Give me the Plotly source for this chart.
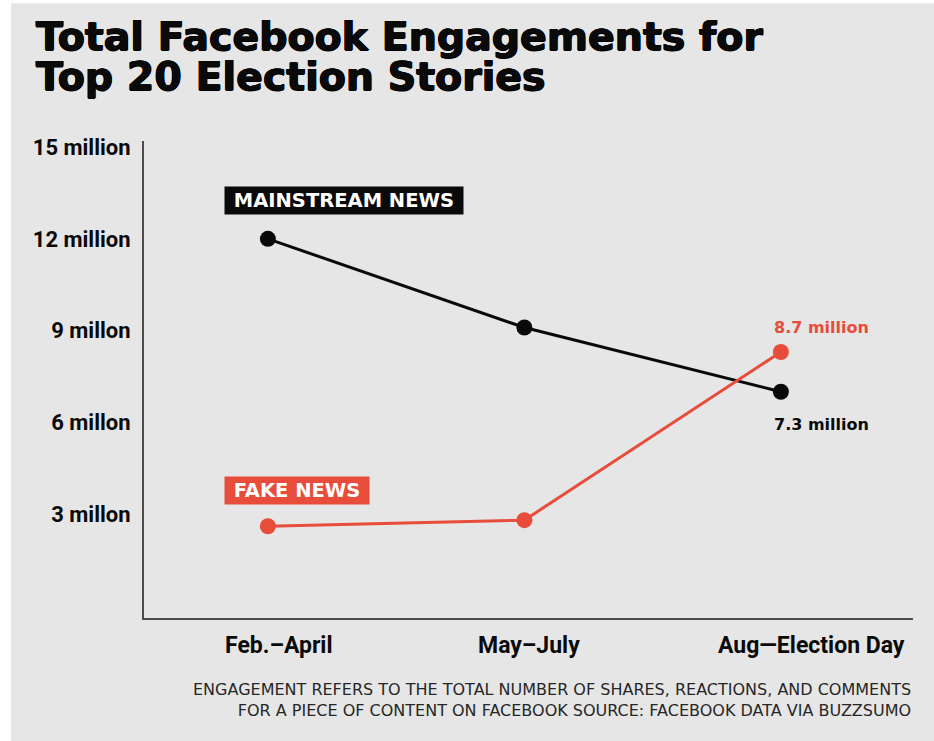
import plotly.graph_objects as go

# ---- data ----
periods = ["Feb.–April", "May–July", "Aug—Election Day"]
mainstream = [12.0, 9.1, 7.0]
fake = [2.6, 2.8, 8.3]
y_tick_vals = [3, 6, 9, 12, 15]
y_tick_text = ["3 millon", "6 millon", "9 millon", "12 million", "15 million"]
mainstream_label = "MAINSTREAM NEWS"
fake_label = "FAKE NEWS"
mainstream_end_label = "7.3 million"
fake_end_label = "8.7 million"
title_lines = ["Total Facebook Engagements for", "Top 20 Election Stories"]
note_text = ("ENGAGEMENT REFERS TO THE TOTAL NUMBER OF SHARES, REACTIONS, AND COMMENTS<br>"
             "FOR A PIECE OF CONTENT ON FACEBOOK SOURCE: FACEBOOK DATA VIA BUZZSUMO")

# ---- styles ----
BLACK = "#0a0a0a"
RED = "#e84c3b"
BG = "#e6e6e6"
AXIS = "#4d4d4d"
HEAVY = "DejaVu Sans"
LABEL_FONT = "Roboto"
THICK = "0.7px 0 0 #000, -0.7px 0 0 #000, 0 0.5px 0 #000, 0 -0.5px 0 #000"

fig = go.Figure()
fig.add_trace(go.Scatter(x=periods, y=mainstream, mode="lines+markers",
                         line=dict(color=BLACK, width=3),
                         marker=dict(color=BLACK, size=16),
                         name="Mainstream News", showlegend=False,
                         cliponaxis=False))
fig.add_trace(go.Scatter(x=periods, y=fake, mode="lines+markers",
                         line=dict(color=RED, width=3),
                         marker=dict(color=RED, size=16),
                         name="Fake News", showlegend=False,
                         cliponaxis=False))

# background panel
fig.add_shape(type="rect", xref="paper", yref="paper",
              x0=-0.173, x1=1.03, y0=-0.26, y1=1.289,
              fillcolor=BG, line=dict(width=0), layer="below")

annotations = []
# title (two lines, tight leading)
for line, ypos in zip(title_lines, [1.2201, 1.1363]):
    annotations.append(dict(x=-0.143, xref="paper", y=ypos, yref="paper",
                            xanchor="left", yanchor="middle", showarrow=False,
                            text=line,
                            font=dict(family=HEAVY, size=39.5, color=BLACK,
                                      weight=700, shadow=THICK)))
# x-axis category labels
x_shifts = [11, 5, 31]
for p, xs in zip(periods, x_shifts):
    annotations.append(dict(x=p, xref="x", y=0, yref="paper", yshift=-27,
                            xshift=xs, text=p, showarrow=False,
                            yanchor="middle", xanchor="center",
                            font=dict(family=LABEL_FONT, size=23, color=BLACK, weight=700)))
# series labels
nb = "\u00a0"
annotations.append(dict(x=periods[0], y=mainstream[0], xref="x", yref="y",
                        xshift=76, yshift=38.5, showarrow=False,
                        text=nb + mainstream_label + nb,
                        bgcolor=BLACK, borderpad=2,
                        font=dict(family=HEAVY, size=19.5, color="white", weight=700)))
annotations.append(dict(x=periods[0], y=fake[0], xref="x", yref="y",
                        xshift=29, yshift=35.5, showarrow=False,
                        text=nb + fake_label + nb,
                        bgcolor=RED, borderpad=2,
                        font=dict(family=HEAVY, size=19.5, color="white", weight=700)))
annotations.append(dict(x=periods[2], y=fake[2], xref="x", yref="y",
                        xshift=41, yshift=24, showarrow=False,
                        text=fake_end_label,
                        font=dict(family=HEAVY, size=16, color=RED, weight=700)))
annotations.append(dict(x=periods[2], y=mainstream[2], xref="x", yref="y",
                        xshift=41, yshift=-33, showarrow=False,
                        text=mainstream_end_label,
                        font=dict(family=HEAVY, size=16, color=BLACK, weight=700)))
# footnote
annotations.append(dict(x=1, xref="paper", y=0, yref="paper", yshift=-60,
                        xanchor="right", yanchor="top", align="right",
                        showarrow=False, text=note_text,
                        font=dict(family=HEAVY, size=16, color="#262626")))

fig.update_layout(
    width=934, height=741,
    margin=dict(l=144, r=21, t=141, b=123),
    paper_bgcolor="white", plot_bgcolor="rgba(0,0,0,0)",
    annotations=annotations,
    xaxis=dict(type="category", range=[-0.483, 2.515], showgrid=False,
               zeroline=False, showline=True, linecolor=AXIS, linewidth=2,
               showticklabels=False, ticks=""),
    yaxis=dict(range=[-0.4, 15.2], showgrid=False, zeroline=False,
               showline=True, linecolor=AXIS, linewidth=2,
               tickvals=y_tick_vals, ticktext=y_tick_text, ticks="",
               ticklabelstandoff=7,
               tickfont=dict(family=LABEL_FONT, size=22, color=BLACK, weight=700)),
)

fig.write_html("out.html")
